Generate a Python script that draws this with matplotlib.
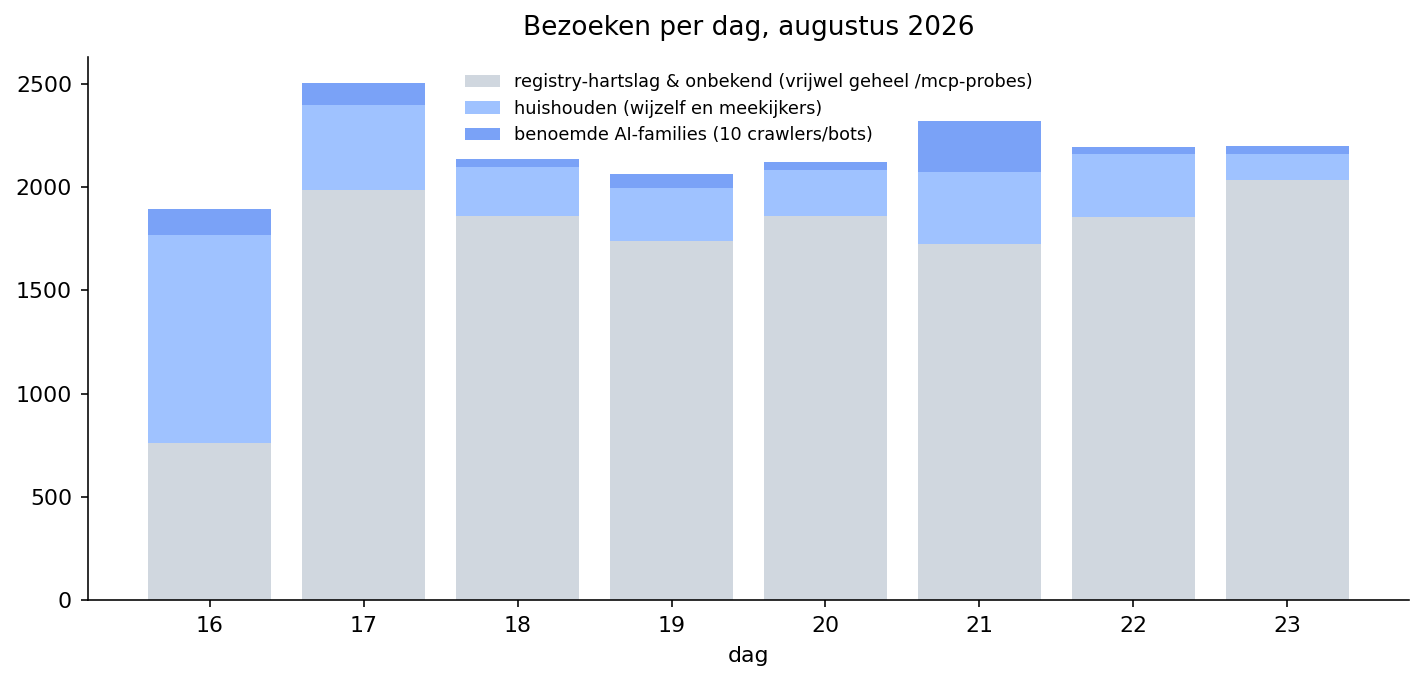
import numpy as np
import matplotlib.pyplot as plt

dagen = [16, 17, 18, 19, 20, 21, 22, 23]
registry = [760, 1986, 1860, 1739, 1860, 1725, 1856, 2035]
huishouden = [1008, 412, 238, 257, 223, 349, 305, 126]
ai_families = [126, 107, 39, 68, 39, 247, 34, 39]

labels = [
    "registry-hartslag & onbekend (vrijwel geheel /mcp-probes)",
    "huishouden (wijzelf en meekijkers)",
    "benoemde AI-families (10 crawlers/bots)",
]

plt.rcParams["font.size"] = 11

fig, ax = plt.subplots(figsize=(1424 / 144, 680 / 144), dpi=144)

reg = np.array(registry)
hh = np.array(huishouden)
ai = np.array(ai_families)

ax.bar(dagen, reg, width=0.8, color="#d0d7df", label=labels[0])
ax.bar(dagen, hh, width=0.8, bottom=reg, color="#9fc2ff", label=labels[1])
ax.bar(dagen, ai, width=0.8, bottom=reg + hh, color="#7aa2f7", label=labels[2])

ax.set_xticks(dagen)
ax.tick_params(axis="both", pad=4.5)
ax.set_xlabel("dag", labelpad=5)
ax.set_title("Bezoeken per dag, augustus 2026", fontsize="large", pad=11)
ax.spines["top"].set_visible(False)
ax.spines["right"].set_visible(False)
ax.legend(loc="upper center", frameon=False, fontsize=8.8)

fig.subplots_adjust(left=88 / 1424, right=1409 / 1424, bottom=1 - 600 / 680, top=1 - 57 / 680)
fig.savefig("out.png", dpi=144)
